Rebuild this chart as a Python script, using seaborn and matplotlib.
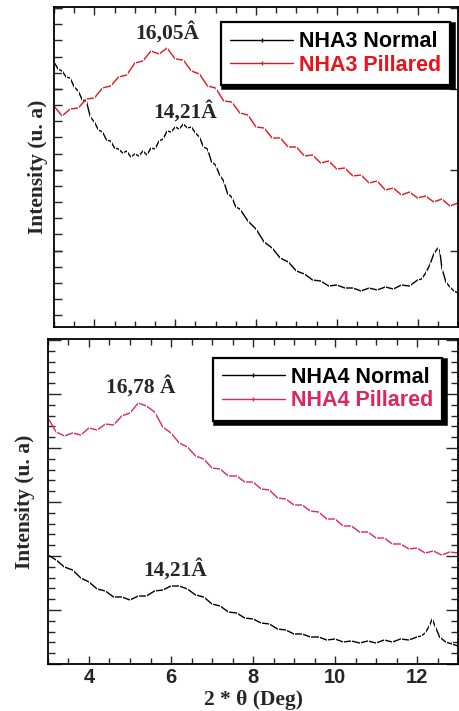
import matplotlib
matplotlib.use("Agg")
import matplotlib.pyplot as plt
from matplotlib.ticker import MultipleLocator, NullFormatter
from matplotlib.lines import Line2D
import pandas as pd
import seaborn as sns

# ---- NHA3 (top panel), intensity in arbitrary units ----
nha3_normal_theta = [3.0, 3.1, 3.2, 3.3, 3.4, 3.5, 3.6, 3.7, 3.8, 3.9,
                     4.0, 4.1, 4.2, 4.3, 4.4, 4.5, 4.6, 4.7, 4.8, 4.9,
                     5.0, 5.1, 5.2, 5.3, 5.4, 5.5, 5.6, 5.7, 5.8, 5.9,
                     6.0, 6.1, 6.2, 6.3, 6.4, 6.5, 6.6, 6.7, 6.8, 6.9,
                     7.0, 7.1, 7.2, 7.3, 7.4, 7.5, 7.6, 7.8, 8.0, 8.2,
                     8.4, 8.6, 8.8, 9.0, 9.2, 9.4, 9.6, 9.8, 10.0, 10.2,
                     10.4, 10.6, 10.8, 11.0, 11.2, 11.4, 11.6, 11.8, 12.0, 12.1,
                     12.2, 12.3, 12.4, 12.5, 12.55, 12.6, 12.7, 12.8, 12.9, 13.0]
nha3_normal = [265, 258, 256, 250, 249, 240, 236, 227, 226, 210,
               205, 197, 195, 187, 186, 179, 178, 174, 176, 170,
               173, 171, 176, 172, 179, 178, 186, 188, 196, 195,
               200, 198, 203, 199, 200, 194, 190, 180, 178, 165,
               162, 152, 146, 133, 130, 120, 118, 106, 98, 85,
               79, 69, 65, 56, 53, 47, 46, 41, 42, 39,
               39, 36, 39, 37, 40, 38, 42, 41, 47, 48,
               54, 62, 73, 79, 76, 59, 45, 40, 36, 34]

nha3_pillared_theta = [3.0, 3.2, 3.4, 3.6, 3.8, 4.0, 4.2, 4.4, 4.6, 4.8,
                       5.0, 5.2, 5.4, 5.6, 5.8, 6.0, 6.2, 6.4, 6.6, 6.8,
                       7.0, 7.2, 7.4, 7.6, 7.8, 8.0, 8.2, 8.4, 8.6, 8.8,
                       9.0, 9.2, 9.4, 9.6, 9.8, 10.0, 10.2, 10.4, 10.6, 10.8,
                       11.0, 11.2, 11.4, 11.6, 11.8, 12.0, 12.2, 12.4, 12.6, 12.8,
                       13.0]
nha3_pillared = [221, 211, 218, 219, 228, 229, 239, 241, 250, 252,
                 264, 266, 276, 273, 279, 268, 267, 256, 253, 241,
                 239, 226, 225, 214, 212, 200, 199, 189, 189, 180,
                 180, 171, 172, 164, 166, 158, 159, 151, 152, 144,
                 146, 137, 139, 132, 135, 129, 131, 125, 128, 121,
                 124]

# ---- NHA4 (bottom panel) ----
nha4_normal_theta = [3.0, 3.2, 3.4, 3.6, 3.8, 4.0, 4.2, 4.4, 4.6, 4.8,
                     5.0, 5.2, 5.4, 5.6, 5.8, 6.0, 6.2, 6.4, 6.6, 6.8,
                     7.0, 7.2, 7.4, 7.6, 7.8, 8.0, 8.2, 8.4, 8.6, 8.8,
                     9.0, 9.2, 9.4, 9.6, 9.8, 10.0, 10.2, 10.4, 10.6, 10.8,
                     11.0, 11.2, 11.4, 11.6, 11.8, 12.0, 12.1, 12.2, 12.3, 12.37,
                     12.45, 12.55, 12.7, 12.85, 13.0]
nha4_normal = [109, 104, 97, 94, 86, 82, 75, 73, 67, 67,
               64, 68, 68, 73, 74, 78, 78, 75, 69, 67,
               60, 58, 52, 51, 46, 45, 41, 40, 35, 34,
               30, 30, 27, 27, 24, 25, 22, 23, 21, 23,
               21, 24, 22, 25, 24, 27, 28, 31, 38, 45,
               37, 27, 22, 20, 18]

nha4_pillared_theta = nha3_pillared_theta
nha4_pillared = [246, 232, 228, 231, 229, 236, 234, 240, 239, 248,
                 251, 261, 258, 252, 237, 231, 221, 217, 208, 205,
                 196, 195, 188, 188, 182, 182, 175, 174, 166, 165,
                 159, 159, 153, 152, 145, 145, 138, 138, 132, 132,
                 126, 126, 120, 120, 115, 116, 111, 113, 109, 112,
                 111]

RED3 = "#e8131b"
RED4 = "#e0245f"

sns.set_style("ticks")
plt.rcParams["font.family"] = ["Liberation Sans", "DejaVu Sans"]
serif = ["Liberation Serif", "DejaVu Serif"]


def make_frame(theta_a, vals_a, name_a, theta_b, vals_b, name_b):
    a = pd.DataFrame({"theta": theta_a, "intensity": vals_a, "sample": name_a})
    b = pd.DataFrame({"theta": theta_b, "intensity": vals_b, "sample": name_b})
    return pd.concat([a, b], ignore_index=True)


def draw_panel(ax, df, palette, ylim):
    sns.lineplot(data=df, x="theta", y="intensity", hue="sample", palette=palette,
                 sort=False, estimator=None, ax=ax, legend=False,
                 linewidth=1.0, marker="|", markersize=5, markeredgewidth=0.8)
    ax.set_xlim(3, 13)
    ax.set_ylim(*ylim)
    ax.xaxis.set_major_locator(MultipleLocator(2))
    ax.xaxis.set_minor_locator(MultipleLocator(0.5))
    ax.yaxis.set_major_formatter(NullFormatter())
    for s in ax.spines.values():
        s.set_linewidth(1.3)
        s.set_color("black")
    ax.tick_params(which="both", direction="in", top=True, right=True, width=1.0)
    ax.tick_params(axis="x", which="major", length=6)
    ax.tick_params(axis="x", which="minor", length=4)
    ax.set_xlabel("")


def add_legend(ax, names, colors, anchor):
    handles = [Line2D([], [], color=c, lw=1.0, marker="|", markersize=3) for c in colors]
    leg = ax.legend(handles, names, loc="upper right", bbox_to_anchor=anchor,
                    borderaxespad=0, fancybox=False, frameon=True,
                    prop={"family": ["Liberation Sans"], "weight": "bold", "size": 15.5},
                    labelcolor=colors, handlelength=2.9, handletextpad=0.28,
                    labelspacing=0.12, borderpad=0.42,
                    shadow={"color": "black", "alpha": 1, "linewidth": 4})
    leg.get_frame().set_edgecolor("black")
    leg.get_frame().set_linewidth(1.6)
    return leg


fig = plt.figure(figsize=(4.59, 7.11), dpi=100)
ax_top = fig.add_axes([54 / 459, 384 / 711, 404 / 459, 320 / 711])
ax_bot = fig.add_axes([48 / 459, 47 / 711, 410 / 459, 325 / 711])

# top panel
df3 = make_frame(nha3_normal_theta, nha3_normal, "NHA3 Normal",
                 nha3_pillared_theta, nha3_pillared, "NHA3 Pillared")
draw_panel(ax_top, df3, {"NHA3 Normal": "black", "NHA3 Pillared": RED3}, (0, 320))
ax_top.yaxis.set_major_locator(MultipleLocator(80.85, offset=76.4))
ax_top.yaxis.set_minor_locator(MultipleLocator(16.17, offset=11.7))
ax_top.tick_params(axis="y", which="minor", right=False, length=6)
ax_top.tick_params(axis="y", which="major", length=6)
ax_top.xaxis.set_major_formatter(NullFormatter())
ax_top.set_ylabel("Intensity (u. a)", family=serif, weight="bold", fontsize=15.5, labelpad=1)
add_legend(ax_top, ["NHA3 Normal", "NHA3 Pillared"], ["black", RED3], (0.98, 0.953))
ax_top.text(5.8, 294, "16,05Â", family=serif, weight="bold", fontsize=15.5, ha="center", va="center")
ax_top.text(6.24, 215, "14,21Â", family=serif, weight="bold", fontsize=15.5, ha="center", va="center")

# bottom panel
df4 = make_frame(nha4_normal_theta, nha4_normal, "NHA4 Normal",
                 nha4_pillared_theta, nha4_pillared, "NHA4 Pillared")
draw_panel(ax_bot, df4, {"NHA4 Normal": "black", "NHA4 Pillared": RED4}, (0, 325))
ax_bot.yaxis.set_major_locator(MultipleLocator(54))
ax_bot.yaxis.set_minor_locator(MultipleLocator(10.8))
ax_bot.tick_params(axis="y", which="major", length=9)
ax_bot.tick_params(axis="y", which="minor", length=5)
ax_bot.set_ylabel("Intensity (u. a)", family=serif, weight="bold", fontsize=15.5, labelpad=6)
ax_bot.set_xlabel("2 * θ (Deg)", family=serif, weight="bold", fontsize=15.5, labelpad=2)
for lbl in ax_bot.get_xticklabels():
    lbl.set_fontweight("bold")
    lbl.set_fontsize(14.5)
ax_bot.tick_params(axis="x", which="major", pad=3)
add_legend(ax_bot, ["NHA4 Normal", "NHA4 Pillared"], ["black", RED4], (0.961, 0.942))
ax_bot.text(5.27, 277, "16,78 Â", family=serif, weight="bold", fontsize=15.5, ha="center", va="center")
ax_bot.text(6.1, 94, "14,21Â", family=serif, weight="bold", fontsize=15.5, ha="center", va="center")

fig.savefig("out.png", dpi=100)
